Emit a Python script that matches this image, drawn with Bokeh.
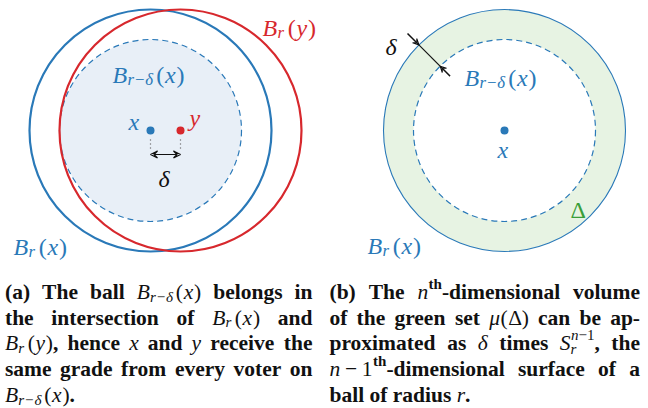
import math
from bokeh.plotting import figure
from bokeh.models import Range1d, ColumnDataSource, Arrow, VeeHead
from bokeh.core.properties import value
from bokeh.embed import file_html
from bokeh.resources import INLINE

# ---------------- data (diagram geometry, pixel units) ----------------
# panel (a): the two points x and y and the balls around them
pts_a_x = [150, 180]
pts_a_y = [130, 130]
ball_r = 121
delta = 30
# panel (b): centre x, ball and shell of width delta
ctr_b_x = [504]
ctr_b_y = [130]
meas_angle_deg = 135

BLUE = "#2a79b8"
RED = "#d7282d"
LIGHT_BLUE = "#e8eff7"
LIGHT_GREEN = "#e7f3e3"
GREEN = "#3a9e3a"
INK = "#111111"

# ---------------- font metrics (Times-like, 1/1000 em) ----------------
BOLD = {' ': 250, '(': 333, ')': 333, ',': 250, '-': 333, '.': 250, '1': 500, 'T': 667,
        'a': 500, 'b': 556, 'c': 444, 'd': 556, 'e': 444, 'f': 333, 'g': 500, 'h': 556,
        'i': 278, 'j': 333, 'k': 556, 'l': 278, 'm': 833, 'n': 556, 'o': 500, 'p': 556,
        'q': 556, 'r': 444, 's': 389, 't': 333, 'u': 556, 'v': 500, 'w': 722, 'x': 500,
        'y': 500, 'z': 444}
ITAL = {'B': 611, 'S': 500, 'r': 389, 'x': 444, 'y': 444, 'n': 500, 'δ': 480, 'μ': 500,
        '1': 500, ' ': 250}
ROMAN = {'(': 333, ')': 333, 'Δ': 612, '−': 564, '1': 500, ',': 250, '.': 250, ' ': 250}
TABLE = {"b": BOLD, "i": ITAL, "r": ROMAN}
STYLE = {"b": "bold", "i": "italic", "r": "normal"}

glyphs = dict(x=[], y=[], text=[], style=[], size=[], color=[])


def run_width(t, s, fs):
    tab = TABLE[s]
    return sum(tab.get(c, 500) for c in t) * fs / 1000.0


def word(runs, x, y, size, color, draw=True):
    cur = x
    for run in runs:
        if isinstance(run, (int, float)):
            cur += run * size
            continue
        t, s = run[0], run[1]
        k = run[2] if len(run) > 2 else 1.0
        dy = run[3] if len(run) > 3 else 0.0
        adv = run[4] if len(run) > 4 else True
        fs = size * k
        if draw:
            glyphs["x"].append(cur)
            glyphs["y"].append(y + dy * size)
            glyphs["text"].append(t)
            glyphs["style"].append(STYLE[s])
            glyphs["size"].append("%.2fpx" % fs)
            glyphs["color"].append(color)
        if adv:
            cur += run_width(t, s, fs)
    return cur - x


def sub(t, s="i"):
    return (t, s, 0.7, 0.22)


def B_sub_rd(tail=None):
    w = [("B", "i"), 0.01, sub("r"), 0.04, sub("−", "r"), 0.04, sub("δ"), 0.12,
         ("(", "r"), 0.03, ("x", "i"), 0.04, (")", "r")]
    if tail:
        w.append((tail, "b"))
    return w


def B_sub_r(v, tail=None):
    w = [("B", "i"), 0.01, sub("r"), 0.16, ("(", "r"), 0.03, (v, "i"), 0.04, (")", "r")]
    if tail:
        w.append((tail, "b"))
    return w


def W(t):
    return [(t, "b")]


def paragraph(lines, left, right, base0, lead, size, color):
    for i, ln in enumerate(lines):
        justify = i < len(lines) - 1
        widths = [word(w, 0, 0, size, color, draw=False) for w in ln]
        if justify and len(ln) > 1:
            gap = (right - left - sum(widths)) / (len(ln) - 1)
        else:
            gap = 0.25 * size
        x = left
        y = base0 + i * lead
        for w, wd in zip(ln, widths):
            word(w, x, y, size, color)
            x += wd + gap


# ---------------- figure ----------------
p = figure(width=648, height=408, x_range=Range1d(0, 648), y_range=Range1d(408, 0),
           output_backend="svg", toolbar_location=None, x_axis_type=None, y_axis_type=None,
           min_border=0)
p.outline_line_color = None
p.background_fill_color = "white"

# panel (a)
p.circle(x=[pts_a_x[0]], y=[pts_a_y[0]], radius=ball_r - delta, fill_color=LIGHT_BLUE,
         line_color=BLUE, line_width=1.2, line_dash="6 4")
p.circle(x=[pts_a_x[0]], y=[pts_a_y[0]], radius=ball_r, fill_color=None,
         line_color=BLUE, line_width=2.2)
p.circle(x=[pts_a_x[1]], y=[pts_a_y[1]], radius=ball_r, fill_color=None,
         line_color=RED, line_width=2.2)
p.segment(x0=pts_a_x, y0=[y + 9 for y in pts_a_y], x1=pts_a_x, y1=[y + 20 for y in pts_a_y],
          line_color="#555555", line_width=1.2, line_dash="1 3")
p.add_layout(Arrow(x_start=pts_a_x[0], y_start=pts_a_y[0] + 24, x_end=pts_a_x[1], y_end=pts_a_y[1] + 24,
                   start=VeeHead(size=7, line_color=INK, line_width=1.2, fill_color=None),
                   end=VeeHead(size=7, line_color=INK, line_width=1.2, fill_color=None),
                   line_color=INK, line_width=1.2))
p.scatter(x=pts_a_x, y=pts_a_y, size=8, color=[BLUE, RED], line_color=None)

# panel (b)
cx, cy = ctr_b_x[0], ctr_b_y[0]
p.annulus(x=ctr_b_x, y=ctr_b_y, inner_radius=ball_r - delta, outer_radius=ball_r,
          fill_color=LIGHT_GREEN, line_color=None)
p.circle(x=ctr_b_x, y=ctr_b_y, radius=ball_r, fill_color=None, line_color=BLUE, line_width=1.1)
p.circle(x=ctr_b_x, y=ctr_b_y, radius=ball_r - delta, fill_color=None, line_color=BLUE,
         line_width=1.2, line_dash="6 4")
p.scatter(x=ctr_b_x, y=ctr_b_y, size=8, color=BLUE, line_color=None)

a = math.radians(meas_angle_deg)
ux, uy = math.cos(a), -math.sin(a)


def on_ray(r):
    return cx + r * ux, cy + r * uy


(o1x, o1y), (o2x, o2y) = on_ray(ball_r + 16), on_ray(ball_r)
(i1x, i1y), (i2x, i2y) = on_ray(ball_r - delta - 14), on_ray(ball_r - delta)
p.segment(x0=[o1x], y0=[o1y], x1=[i1x], y1=[i1y], line_color=INK, line_width=1.2)
for sx, sy, ex, ey in [(o1x, o1y, o2x, o2y), (i1x, i1y, i2x, i2y)]:
    p.add_layout(Arrow(x_start=sx, y_start=sy, x_end=ex, y_end=ey,
                       end=VeeHead(size=6, line_color=INK, line_width=1.1, fill_color=None),
                       line_color=INK, line_width=1.2))

# ---------------- diagram labels ----------------
LS = 24
word(B_sub_r("y"), 262, 27, LS, RED)
word(B_sub_rd(), 112, 74, LS, BLUE)
word([("x", "i")], 128, 121, LS, BLUE)
word([("y", "i")], 189, 117, LS, RED)
word([("δ", "i")], 158, 178, LS, INK)
word(B_sub_r("x"), 13, 246, LS, BLUE)

word([("δ", "i")], 385, 46.5, LS, INK)
word(B_sub_rd(), 464, 77, LS, BLUE)
word([("x", "i")], 497, 149, LS, BLUE)
word([("Δ", "r")], 570, 209, LS, GREEN)
word(B_sub_r("x"), 367, 245, LS, BLUE)

# ---------------- captions ----------------
CS = 21.5
cap_a = [
    [W("(a)"), W("The"), W("ball"), B_sub_rd(), W("belongs"), W("in")],
    [W("the"), W("intersection"), W("of"), B_sub_r("x"), W("and")],
    [B_sub_r("y", ","), W("hence"), [("x", "i")], W("and"), [("y", "i")], W("receive"), W("the")],
    [W("same"), W("grade"), W("from"), W("every"), W("voter"), W("on")],
    [B_sub_rd(".")],
]
sup = lambda t, s: (t, s, 0.7, -0.38)
cap_b = [
    [W("(b)"), W("The"), [("n", "i"), 0.02, sup("th", "b"), ("-dimensional", "b")], W("volume")],
    [W("of"), W("the"), W("green"), W("set"),
     [("μ", "i"), 0.03, ("(", "r"), 0.02, ("Δ", "r"), 0.02, (")", "r")],
     W("can"), W("be"), W("ap-")],
    [W("proximated"), W("as"), [("δ", "i")], W("times"),
     [("S", "i"), ("r", "i", 0.7, 0.26, False), 0.03, sup("n", "i"), sup("−", "r"), sup("1", "r"),
      (",", "b")],
     W("the")],
    [[("n", "i"), 0.22, ("−", "r"), 0.22, ("1", "r"), 0.02, sup("th", "b"), ("-dimensional", "b")],
     W("surface"), W("of"), W("a")],
    [W("ball"), W("of"), W("radius"), [("r", "i"), (".", "b")]],
]
paragraph(cap_a, 4.5, 312, 291.5, 25.7, CS, INK)
paragraph(cap_b, 329, 639.5, 291.5, 25.7, CS, INK)

src = ColumnDataSource(glyphs)
p.text(x="x", y="y", text="text", source=src, text_font=value("Liberation Serif"),
       text_font_style="style", text_font_size="size", text_color="color",
       text_align="left", text_baseline="alphabetic")

open("out.html", "w").write(file_html(p, INLINE))
